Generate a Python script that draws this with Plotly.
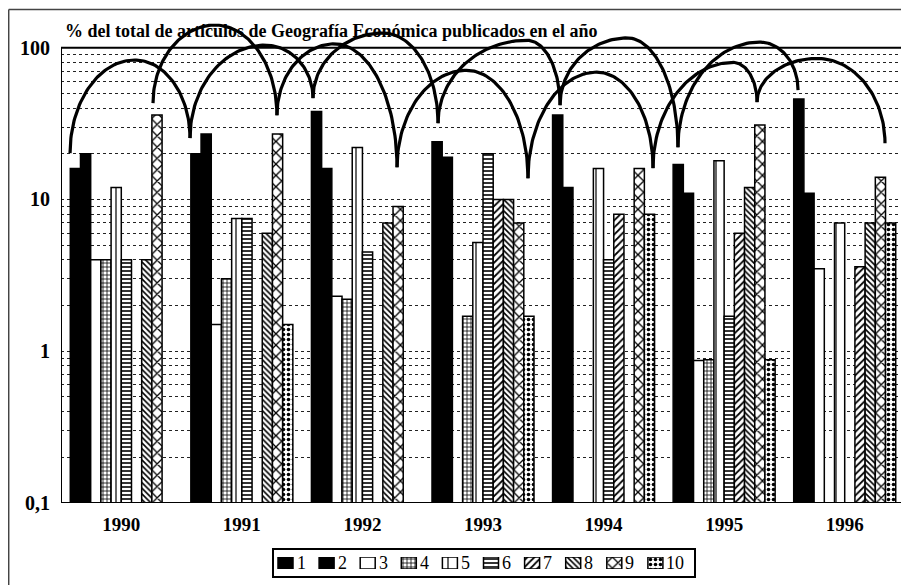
import numpy as np
import plotly.graph_objects as go

# ---------------- data ----------------
years = ["1990", "1991", "1992", "1993", "1994", "1995", "1996"]
series_names = ["1", "2", "3", "4", "5", "6", "7", "8", "9", "10"]

s1 = [16, 20, 38, 24, 36, 17, 46]
s2 = [20, 27, 16, 19, 12, 11, 11]
s3 = [4, 1.5, 2.3, None, None, 0.87, 3.5]
s4 = [4, 3, 2.2, 1.7, None, 0.88, None]
s5 = [12, 7.5, 22, 5.2, 16, 18, 7]
s6 = [4, 7.5, 4.5, 20, 4, 1.7, None]
s7 = [None, None, None, 10, 8, 6, 3.6]
s8 = [4, 6, 7, 10, None, 12, 7]
s9 = [36, 27, 9, 7, 16, 31, 14]
s10 = [None, 1.5, None, 1.7, 8, 0.88, 7]
all_series = [s1, s2, s3, s4, s5, s6, s7, s8, s9, s10]

y_tick_vals = [0.1, 1, 10, 100]
y_tick_text = ["0,1", "1", "10", "100"]

# hand-drawn arcs linking series 1 and series 9 from year to year
arc1_nodes = [20.2, 25.4, 46.5, 31.8, 41.8, 22.1, 52.6]
arc1_peaks = [83, 104, 125, 112, 116, 109]
arc9_nodes = [43.1, 35.9, 16.3, 13.8, 16.1, 43.8, 23.5]
arc9_peaks = [141, 106, 71, 69, 80, 85]

title_text = "% del total de artículos de Geografía Económica publicados en el año"

# ---------------- styles / geometry ----------------
FONT = "Liberation Serif"
patterns = [
    dict(color="black", shape="", size=8, solidity=0.3),
    dict(color="black", shape="", size=8, solidity=0.3),
    dict(color="white", shape="", size=8, solidity=0.3),
    dict(color="white", shape="+", size=4, solidity=0.35),
    dict(color="white", shape="|", size=10, solidity=0.12),
    dict(color="white", shape="-", size=4, solidity=0.4),
    dict(color="white", shape="/", size=5, solidity=0.35),
    dict(color="white", shape="\\", size=4, solidity=0.4),
    dict(color="white", shape="x", size=8, solidity=0.3),
    dict(color="white", shape=".", size=5, solidity=0.4),
]
arc1_shift = [-0.425, -0.430, -0.41, -0.373, -0.361, -0.383, -0.387]
arc9_shift = [0.263, 0.291, 0.287, 0.373, 0.410, 0.273, 0.334]
arc1_peak_frac = [0.54, 0.61, 0.56, 0.73, 0.57, 0.68]
arc9_peak_frac = [0.50, 0.48, 0.53, 0.55, 0.77, 0.47]

# the page puts the figure 8px in from the window's corner
OFF = 8
W, H = 909 - OFF, 585 - OFF
PLOT_L, PLOT_R, PLOT_TOP100, PLOT_B = 61, 905, 47.7, 503   # window pixels
TOP_EXT = 17                                              # window px of plot-area top
ML, MR, MT, MB = PLOT_L - OFF, W - (PLOT_R - OFF), TOP_EXT - OFF, 0
PW, PH = W - ML - MR, H - MT - MB


def px_x(px):
    return (px - OFF - ML) / PW


def px_y(py):
    return (H - MB - (py - OFF)) / PH


def marker_for(p):
    return dict(
        color=p["color"],
        line=dict(color="black", width=1.5),
        pattern=dict(shape=p["shape"], fgcolor="black", bgcolor=p["color"],
                     size=p["size"], solidity=p["solidity"], fillmode="replace"),
    )


fig = go.Figure()

for name, vals, p in zip(series_names, all_series, patterns):
    fig.add_trace(go.Bar(
        x=years, y=vals, name=name, marker=marker_for(p),
        hoverinfo="skip", showlegend=False,
    ))


def arc_xy(xa, va, xb, vb, vp, f, n=50):
    la, lb, lp = np.log10([va, vb, vp])
    xp = xa + f * (xb - xa)
    t = np.linspace(0, np.pi / 2, n)
    xl = xp - (xp - xa) * np.cos(t)
    ll = la + (lp - la) * np.sin(t)
    xr = xp + (xb - xp) * np.sin(t)
    lr = lb + (lp - lb) * np.cos(t)
    return np.concatenate([xl, xr[1:]]), 10 ** np.concatenate([ll, lr[1:]])


for nodes, peaks, shift, frac in [
    (arc1_nodes, arc1_peaks, arc1_shift, arc1_peak_frac),
    (arc9_nodes, arc9_peaks, arc9_shift, arc9_peak_frac),
]:
    for i in range(len(peaks)):
        xs, ys = arc_xy(i + shift[i], nodes[i], i + 1 + shift[i + 1], nodes[i + 1],
                        peaks[i], frac[i])
        fig.add_trace(go.Scatter(
            x=xs, y=ys, xaxis="x2", yaxis="y", mode="lines",
            line=dict(color="black", width=3.2), showlegend=False,
            hoverinfo="skip", cliponaxis=False,
        ))

# ---- legend drawn as a small keyed strip of swatches ----
LEG_L, LEG_R, LEG_T, LEG_B = 273, 695, 549, 577
SW_T, SW_B = 557, 569
pitch, sw_w = 41.1, 15
legend_x = [12.5 + pitch * i for i in range(len(series_names))]
for name, p, lx in zip(series_names, patterns, legend_x):
    fig.add_trace(go.Bar(
        x=[lx], y=[1], base=0, width=sw_w, xaxis="x3", yaxis="y3",
        marker=marker_for(p), showlegend=False, hoverinfo="skip",
    ))

annotations = [
    dict(text=title_text, xref="paper", yref="paper", x=px_x(63), y=px_y(31),
         xanchor="left", yanchor="middle", showarrow=False,
         font=dict(family=FONT, size=18, color="black", weight="bold")),
]
for name, lx in zip(series_names, legend_x):
    annotations.append(dict(
        text=name, xref="x3", yref="y3", x=lx + sw_w / 2 + 1.5, y=0.5,
        xanchor="left", yanchor="middle", showarrow=False,
        font=dict(family=FONT, size=18, color="black"),
    ))

top_log = 2 + (PLOT_TOP100 - TOP_EXT) / 151.67

fig.update_layout(
    template="none",
    width=W, height=H,
    margin=dict(l=ML, r=MR, t=MT, b=MB),
    paper_bgcolor="white", plot_bgcolor="white",
    barmode="group", bargap=0.154, bargroupgap=0,
    font=dict(family=FONT, color="black"),
    showlegend=False,
    xaxis=dict(
        type="category", range=[-0.5, 6.5], showline=False, showgrid=False,
        domain=[0, 1], anchor="y",
        ticks="", ticklabelstandoff=8, automargin=False,
        tickfont=dict(family=FONT, size=19, color="black", weight="bold"),
        zeroline=False,
    ),
    xaxis2=dict(overlaying="x", range=[-0.5, 6.5], visible=False, anchor="y"),
    yaxis=dict(
        type="log", range=[-1, top_log], showline=False,
        domain=[px_y(PLOT_B), 1], anchor="x", automargin=False,
        tickvals=y_tick_vals, ticktext=y_tick_text, ticks="",
        ticklabelstandoff=10,
        tickfont=dict(family=FONT, size=20, color="black", weight="bold"),
        showgrid=True, gridcolor="#222", gridwidth=1, griddash="3px,3px",
        minor=dict(
            tickvals=[0.2, 0.3, 0.4, 0.5, 0.6, 0.7, 0.8, 0.9,
                      2, 3, 4, 5, 6, 7, 8, 9,
                      20, 30, 40, 50, 60, 70, 80, 90],
            showgrid=True, gridcolor="#222", gridwidth=1, griddash="3px,3px",
            ticks="",
        ),
        zeroline=False,
    ),
    xaxis3=dict(domain=[px_x(LEG_L), px_x(LEG_R)], range=[0, LEG_R - LEG_L],
                visible=False, anchor="y3", fixedrange=True),
    yaxis3=dict(domain=[px_y(SW_B), px_y(SW_T)], range=[0, 1],
                visible=False, anchor="x3", fixedrange=True),
    shapes=[
        dict(type="rect", xref="x", yref="y", x0=-0.5, x1=6.5, y0=0.1, y1=100,
             line=dict(color="black", width=2), layer="above"),
        dict(type="rect", xref="paper", yref="paper", x0=px_x(LEG_L), x1=px_x(LEG_R),
             y0=px_y(LEG_B), y1=px_y(LEG_T), line=dict(color="black", width=2),
             layer="below"),
        dict(type="line", xref="paper", yref="paper", x0=px_x(8.7), x1=px_x(912),
             y0=px_y(9.5), y1=px_y(9.5), line=dict(color="#444", width=1.5)),
        dict(type="line", xref="paper", yref="paper", x0=px_x(8.7), x1=px_x(8.7),
             y0=px_y(9.5), y1=px_y(590), line=dict(color="#444", width=1.5)),
    ],
    annotations=annotations,
)

fig.write_html("out.html")
